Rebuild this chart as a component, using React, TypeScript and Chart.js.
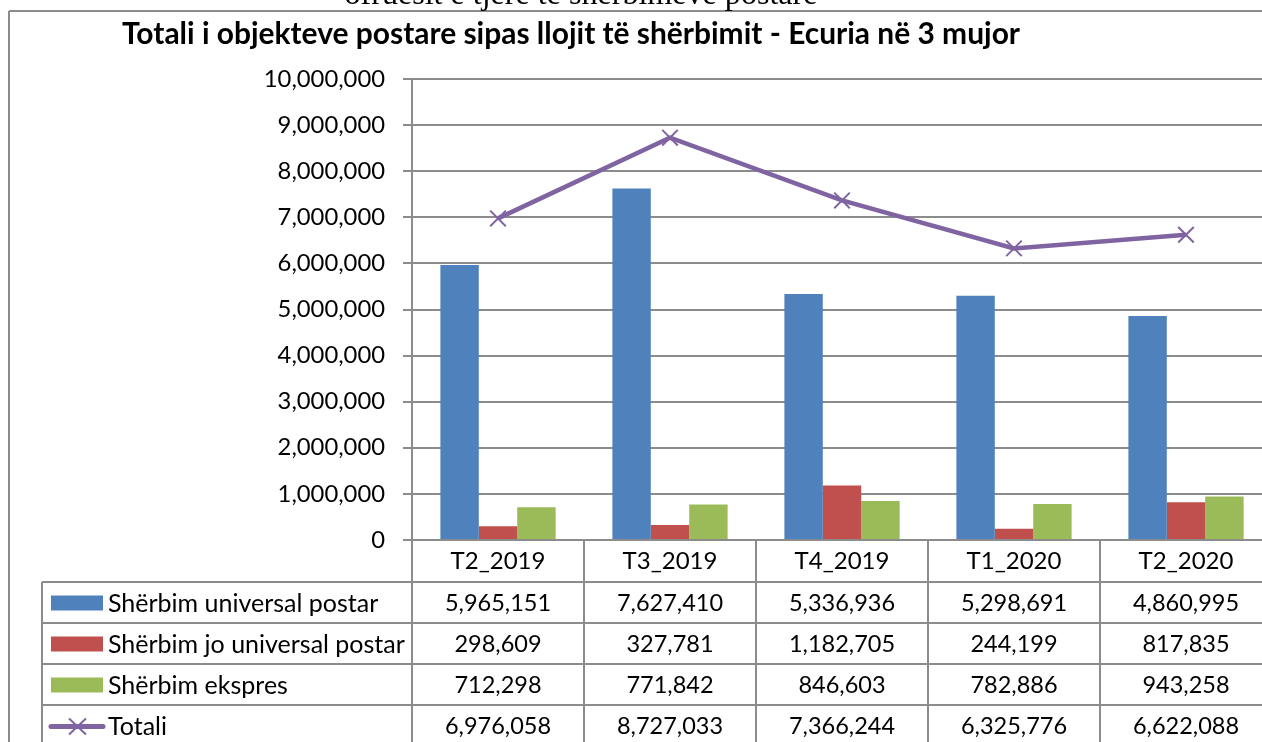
import { useEffect, useRef } from 'react';
import { Chart, registerables } from 'chart.js';

Chart.register(...registerables);

const categories = ['T2_2019', 'T3_2019', 'T4_2019', 'T1_2020', 'T2_2020'];
const universal = [5965151, 7627410, 5336936, 5298691, 4860995];
const joUniversal = [298609, 327781, 1182705, 244199, 817835];
const ekspres = [712298, 771842, 846603, 782886, 943258];
const totali = [6976058, 8727033, 7366244, 6325776, 6622088];
const seriesNames = [
  'Shërbim universal postar',
  'Shërbim jo universal postar',
  'Shërbim ekspres',
  'Totali',
];
const seriesColors = ['#4F81BD', '#C0504D', '#9BBB59', '#8064A2'];
const chartTitle = 'Totali i objekteve postare sipas llojit të shërbimit - Ecuria në 3 mujor';
const topCaption = 'ofruesit e tjerë të shërbimeve postare';
const yMin = 0;
const yMax = 10000000;
const yStep = 1000000;

const W = 1300;
const H = 742;
const GRID = '#8c8c8c';
const FONT = 'Lato';

const fmt = (v: number) => Number(v).toLocaleString('en-US');

function fitFont(ctx: CanvasRenderingContext2D, text: string, family: string, weight: string, target: number) {
  ctx.font = `${weight} 100px ${family}`;
  const w = ctx.measureText(text).width;
  const size = (100 * target) / w;
  return `${weight} ${size.toFixed(2)}px ${family}`;
}

const tablePlugin = {
  id: 'tablePlugin',
  afterDraw(chart: any) {
    const ctx: CanvasRenderingContext2D = chart.ctx;
    const xs = chart.scales.x;
    const area = chart.chartArea;
    const n = categories.length;
    const catW = (area.right - area.left) / n;
    const rowTop = 582;
    const rowH = 41;
    const rows = [universal, joUniversal, ekspres, totali];

    ctx.save();
    ctx.strokeStyle = GRID;
    ctx.lineWidth = 2;
    ctx.beginPath();
    // outer frame
    ctx.moveTo(9, 11);
    ctx.lineTo(W, 11);
    ctx.moveTo(9, 11);
    ctx.lineTo(9, H);
    // table horizontals
    for (let r = 0; r < 4; r++) {
      const y = rowTop + r * rowH;
      ctx.moveTo(42, y);
      ctx.lineTo(W, y);
    }
    ctx.moveTo(42, rowTop);
    ctx.lineTo(42, H);
    // category separators
    for (let i = 0; i <= n; i++) {
      const x = area.left + i * catW;
      ctx.moveTo(x, area.bottom);
      ctx.lineTo(x, H);
    }
    ctx.stroke();

    // top caption (clipped)
    ctx.fillStyle = '#000';
    ctx.textAlign = 'center';
    ctx.textBaseline = 'alphabetic';
    ctx.font = fitFont(ctx, topCaption, '"Liberation Serif"', 'normal', 473);
    ctx.fillText(topCaption, 581, 4);

    // title
    ctx.font = fitFont(ctx, chartTitle, FONT, 'bold', 898);
    ctx.fillText(chartTitle, 571, 44);

    // category labels
    ctx.font = `24px ${FONT}`;
    ctx.textBaseline = 'middle';
    for (let i = 0; i < n; i++) {
      const cx = xs.getPixelForValue(i);
      ctx.fillText(categories[i], cx, 561);
    }

    // values
    ctx.font = `23.5px ${FONT}`;
    for (let r = 0; r < rows.length; r++) {
      const cy = rowTop + r * rowH + rowH / 2 + 1;
      for (let i = 0; i < n; i++) {
        const cx = xs.getPixelForValue(i);
        ctx.fillText(fmt(rows[r][i]), cx, cy);
      }
    }

    // legend keys
    ctx.textAlign = 'left';
    ctx.font = `25px ${FONT}`;
    for (let r = 0; r < rows.length; r++) {
      const cy = rowTop + r * rowH + rowH / 2 + 1;
      if (r < 3) {
        ctx.fillStyle = seriesColors[r];
        ctx.fillRect(51, cy - 8, 52, 15);
      } else {
        ctx.strokeStyle = seriesColors[3];
        ctx.lineWidth = 5;
        ctx.lineCap = 'round';
        ctx.beginPath();
        ctx.moveTo(51, cy);
        ctx.lineTo(103, cy);
        ctx.stroke();
        ctx.lineWidth = 2;
        ctx.lineCap = 'butt';
        ctx.beginPath();
        ctx.moveTo(69, cy - 8);
        ctx.lineTo(86, cy + 8);
        ctx.moveTo(86, cy - 8);
        ctx.lineTo(69, cy + 8);
        ctx.stroke();
      }
      ctx.fillStyle = '#000';
      ctx.fillText(seriesNames[r], 108, cy);
    }
    ctx.restore();
  },
};

export default function App() {
  const ref = useRef<HTMLCanvasElement>(null);

  useEffect(() => {
    if (!ref.current) return;
    const chart = new Chart(ref.current, {
      type: 'bar',
      data: {
        labels: categories,
        datasets: [
          {
            type: 'line',
            label: seriesNames[3],
            data: totali,
            borderColor: seriesColors[3],
            backgroundColor: seriesColors[3],
            borderWidth: 4.5,
            pointStyle: 'crossRot',
            pointRadius: 11,
            pointBorderWidth: 2,
            pointBorderColor: seriesColors[3],
            fill: false,
            tension: 0,
            order: 0,
          } as any,
          {
            label: seriesNames[0],
            data: universal,
            backgroundColor: seriesColors[0],
            categoryPercentage: 0.67,
            barPercentage: 1,
            order: 1,
          },
          {
            label: seriesNames[1],
            data: joUniversal,
            backgroundColor: seriesColors[1],
            categoryPercentage: 0.67,
            barPercentage: 1,
            order: 1,
          },
          {
            label: seriesNames[2],
            data: ekspres,
            backgroundColor: seriesColors[2],
            categoryPercentage: 0.67,
            barPercentage: 1,
            order: 1,
          },
        ],
      },
      options: {
        responsive: false,
        animation: false,
        devicePixelRatio: 1,
        layout: { padding: { top: 79, bottom: H - 540, left: 0, right: W - 1272 } },
        plugins: {
          legend: { display: false },
          tooltip: { enabled: false },
          title: { display: false },
        },
        scales: {
          x: { display: false, offset: true },
          y: {
            min: yMin,
            max: yMax,
            ticks: {
              stepSize: yStep,
              color: '#000',
              padding: 18,
              font: { family: FONT, size: 23.8 },
              callback: (v: any) => fmt(v),
            },
            grid: { color: GRID, lineWidth: 2, tickLength: 9, drawTicks: true },
            border: { color: GRID, width: 2 },
            afterFit: (s: any) => {
              s.width = 412;
            },
          },
        },
      },
      plugins: [tablePlugin],
    });
    return () => chart.destroy();
  }, []);

  return (
    <div
      style={{
        position: 'fixed',
        left: 0,
        top: 0,
        width: 1262,
        height: 742,
        overflow: 'hidden',
        background: '#fff',
      }}
    >
      <canvas ref={ref} width={W} height={H} style={{ width: W, height: H, display: 'block' }} />
    </div>
  );
}
